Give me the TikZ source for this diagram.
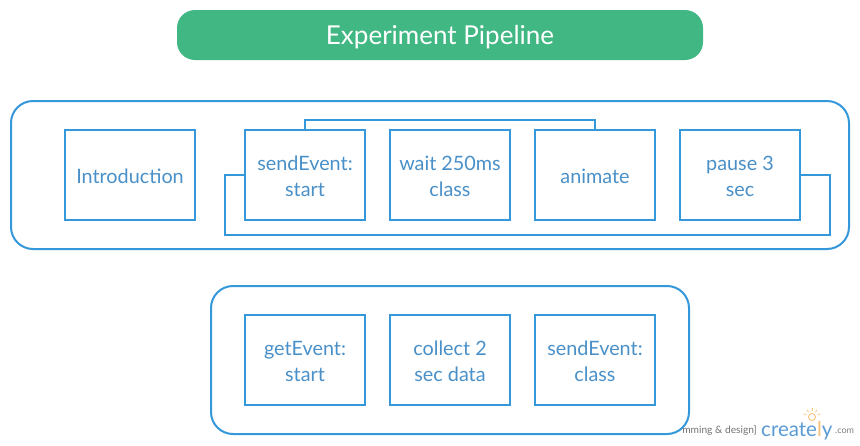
\documentclass[tikz,border=0pt]{standalone}
\usepackage{fontspec}
\setmainfont{Lato}
\definecolor{stroke}{HTML}{3498DB}
\definecolor{label}{HTML}{4A90C8}
\definecolor{titlegreen}{HTML}{41B883}
\definecolor{logoblue}{HTML}{5B9BD5}
\definecolor{logoorange}{HTML}{F7C27A}
\newcommand{\lowered}[1]{\raisebox{-3pt}[\height][\depth]{\begin{tabular}{@{}c@{}}#1\end{tabular}}}
\tikzset{
  x=1pt,y=-1pt,
  stepbox/.style={draw=stroke,line width=2pt,fill=white,minimum width=120pt,minimum height=90pt,
    inner sep=0pt,outer sep=0pt,text=label,font=\fontsize{19.8}{26}\selectfont},
  group/.style={draw=stroke,line width=2pt,rounded corners=22pt},
  link/.style={draw=stroke,line width=2pt,line join=miter},
}
\begin{document}
\begin{tikzpicture}
\useasboundingbox (0,0) rectangle (860,445);
\fill[white] (0,0) rectangle (860,445);
\node[fill=titlegreen,rounded corners=18pt,minimum width=526pt,minimum height=50pt,inner sep=0pt] (title) at (440,35) {};
\node[text=white,font=\fontsize{26}{30}\selectfont,inner sep=0pt] (titletext) at (440,37) {Experiment Pipeline};
\draw[group] (11,101) rectangle (849,249);
\draw[group] (211,286) rectangle (689,434);
\coordinate (ul) at (225,175);
\coordinate (ll) at (225,235);
\coordinate (lr) at (830,235);
\coordinate (ur) at (830,175);
\coordinate (t1) at (305,120);
\coordinate (t2) at (595,120);
\node[stepbox,minimum width=130pt] (intro) at (130,175) {\lowered{Introduction}};
\node[stepbox] (send) at (305,175) {\lowered{sendEvent:\\start}};
\node[stepbox] (wait) at (450,175) {\lowered{wait 250ms\\class}};
\node[stepbox] (anim) at (595,175) {\lowered{animate}};
\node[stepbox] (pause) at (740,175) {\lowered{pause 3\\sec}};
\node[stepbox] (get) at (305,360) {\lowered{getEvent:\\start}};
\node[stepbox] (collect) at (450,360) {\lowered{collect 2\\sec data}};
\node[stepbox] (sendc) at (595,360) {\lowered{sendEvent:\\class}};
\draw[link] (send.north) -- (t1) -- (t2) -- (anim.north);
\draw[link] (send.west) -- (ul) -- (ll) -- (lr) -- (ur) -- (pause.east);
\node[anchor=base east,inner sep=0pt,text=black!55,font=\fontsize{10.2}{11}\selectfont] (wm) at (757,433) {mming \& design]};
\node[anchor=base west,inner sep=0pt,text=logoblue,font=\fontsize{20.5}{26}\selectfont] (logo) at (761,436) {create\textcolor{logoorange}{l}y};
\node[anchor=base west,inner sep=0pt,text=black!50,font=\fontsize{9}{10}\selectfont] (com) at (835,433) {.com};
\node[circle,draw=logoorange,line width=0.9pt,minimum size=7pt,inner sep=0pt] (bulb) at (812,417) {};
\foreach \a in {20,55,90,125,160}{\draw[logoorange,line width=0.7pt] (bulb.center) ++({6*cos(\a)},{-6*sin(\a)}) -- ++({3*cos(\a)},{-3*sin(\a)});}
\end{tikzpicture}
\end{document}
